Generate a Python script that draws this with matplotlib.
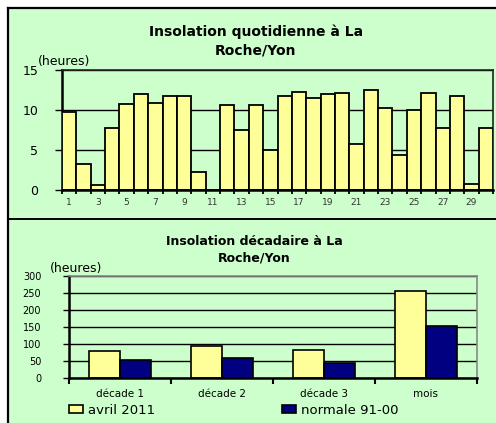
import matplotlib
matplotlib.use('Agg')
import matplotlib.pyplot as plt
from matplotlib.patches import Rectangle
from matplotlib.lines import Line2D
import numpy as np

# ---- data ----
days = list(range(1, 31))
daily_hours = [9.7, 3.3, 0.6, 7.7, 10.8, 12.0, 10.9, 11.8, 11.8, 2.2,
               0.0, 10.6, 7.5, 10.6, 5.0, 11.8, 12.3, 11.5, 12.0, 12.1,
               5.8, 12.5, 10.2, 4.4, 10.0, 12.1, 7.8, 11.8, 0.8, 7.7]
day_tick_days = list(range(1, 30, 2))
day_tick_labels = [str(d) for d in day_tick_days]
daily_yticks = [0, 5, 10, 15]

periods = ['décade 1', 'décade 2', 'décade 3', 'mois']
avril_2011 = [80, 93, 83, 257]
normale_91_00 = [51, 58, 44, 152]
decade_yticks = [0, 50, 100, 150, 200, 250, 300]

top_title = 'Insolation quotidienne à La\nRoche/Yon'
bottom_title = 'Insolation décadaire à La\nRoche/Yon'
unit_label = '(heures)'
legend_labels = ['avril 2011', 'normale 91-00']

# ---- styling ----
plt.rcParams['font.family'] = ['DejaVu Sans']
W, H = 496, 423
green = '#CCFFCC'
yellow = '#FFFF99'
navy = '#000080'


def fx(px):
    return px / W


def fy(py):
    return 1 - py / H


fig = plt.figure(figsize=(W / 100, H / 100), dpi=100)
fig.patch.set_facecolor('white')
fig.patches.append(Rectangle((fx(8), 0), 1 - fx(8), fy(8), transform=fig.transFigure,
                             facecolor=green, edgecolor='none', zorder=-5))
fig.add_artist(Line2D([fx(8), fx(8)], [0, fy(8)], color='black', lw=1.6, transform=fig.transFigure))
fig.add_artist(Line2D([fx(8), 1], [fy(8), fy(8)], color='black', lw=1.6, transform=fig.transFigure))
fig.add_artist(Line2D([fx(8), 1], [fy(219), fy(219)], color='black', lw=1.4, transform=fig.transFigure))

# ---- top chart ----
ax1 = fig.add_axes([fx(62), fy(190), fx(493) - fx(62), fy(70) - fy(190)])
ax1.set_facecolor(green)
ax1.bar(days, daily_hours, width=1.0, color=yellow, edgecolor='black', linewidth=1.3, zorder=3)
ax1.set_xlim(0.5, 30.5)
ax1.set_ylim(0, 15)
ax1.set_yticks(daily_yticks)
ax1.set_yticklabels([str(v) for v in daily_yticks], fontsize=9)
ax1.yaxis.grid(True, color='black', lw=1.0)
ax1.set_axisbelow(True)
ax1.set_xticks(day_tick_days)
ax1.set_xticklabels(day_tick_labels, fontsize=6.5, color='#333333')
ax1.set_xticks(np.arange(0.5, 31, 1), minor=True)
ax1.tick_params(axis='x', which='major', length=0, pad=6)
ax1.tick_params(axis='x', which='minor', length=3, width=1.3, direction='out')
ax1.tick_params(axis='y', length=5, width=1.0, pad=12, direction='out')
for s in ['left', 'bottom']:
    ax1.spines[s].set_linewidth(1.8)
    ax1.spines[s].set_color('black')
for s in ['top', 'right']:
    ax1.spines[s].set_linewidth(1.2)
    ax1.spines[s].set_color('#222222')
ax1.spines['bottom'].set_zorder(4)

fig.text(fx(256), fy(32), top_title.split('\n')[0], ha='center', va='center',
         fontsize=10, fontweight='bold')
fig.text(fx(256), fy(50), top_title.split('\n')[1], ha='center', va='center',
         fontsize=10, fontweight='bold')
fig.text(fx(38), fy(61), unit_label, ha='left', va='center', fontsize=9)

# ---- bottom chart ----
ax2 = fig.add_axes([fx(69), fy(377.7), fx(477) - fx(69), fy(276) - fy(377.7)])
ax2.set_facecolor(green)
x = np.arange(len(periods))
bw = 0.3
ax2.bar(x - bw / 2, avril_2011, width=bw, color=yellow, edgecolor='black', linewidth=1.2,
        zorder=3, label=legend_labels[0])
ax2.bar(x + bw / 2, normale_91_00, width=bw, color=navy, edgecolor='black', linewidth=1.2,
        zorder=3, label=legend_labels[1])
ax2.set_xlim(-0.5, len(periods) - 0.5)
ax2.set_ylim(0, 300)
ax2.set_yticks(decade_yticks)
ax2.set_yticklabels([str(v) for v in decade_yticks], fontsize=7)
ax2.yaxis.grid(True, color='black', lw=1.0)
ax2.set_axisbelow(True)
ax2.set_xticks(x)
ax2.set_xticklabels(periods, fontsize=7.5)
ax2.set_xticks(np.arange(-0.5, len(periods), 1), minor=True)
ax2.tick_params(axis='x', which='major', length=0, pad=8)
ax2.tick_params(axis='x', which='minor', length=4, width=1.5, direction='out')
ax2.tick_params(axis='y', length=4, width=1.0, pad=16, direction='out')
for s in ['left', 'bottom']:
    ax2.spines[s].set_linewidth(1.8)
    ax2.spines[s].set_color('black')
for s in ['top', 'right']:
    ax2.spines[s].set_linewidth(1.2)
    ax2.spines[s].set_color('#888888')
ax2.spines['bottom'].set_zorder(4)

fig.text(fx(254), fy(241), bottom_title.split('\n')[0], ha='center', va='center',
         fontsize=9, fontweight='bold')
fig.text(fx(254), fy(258), bottom_title.split('\n')[1], ha='center', va='center',
         fontsize=9, fontweight='bold')
fig.text(fx(50), fy(268), unit_label, ha='left', va='center', fontsize=9)

leg = ax2.legend(loc='center left', bbox_to_anchor=(fx(57), fy(410)),
                 bbox_transform=fig.transFigure, ncol=2, frameon=False,
                 fontsize=9.5, handlelength=1.1, handleheight=0.55, handletextpad=0.35,
                 columnspacing=9.6)

fig.savefig('out.png', dpi=100, facecolor=fig.get_facecolor())
